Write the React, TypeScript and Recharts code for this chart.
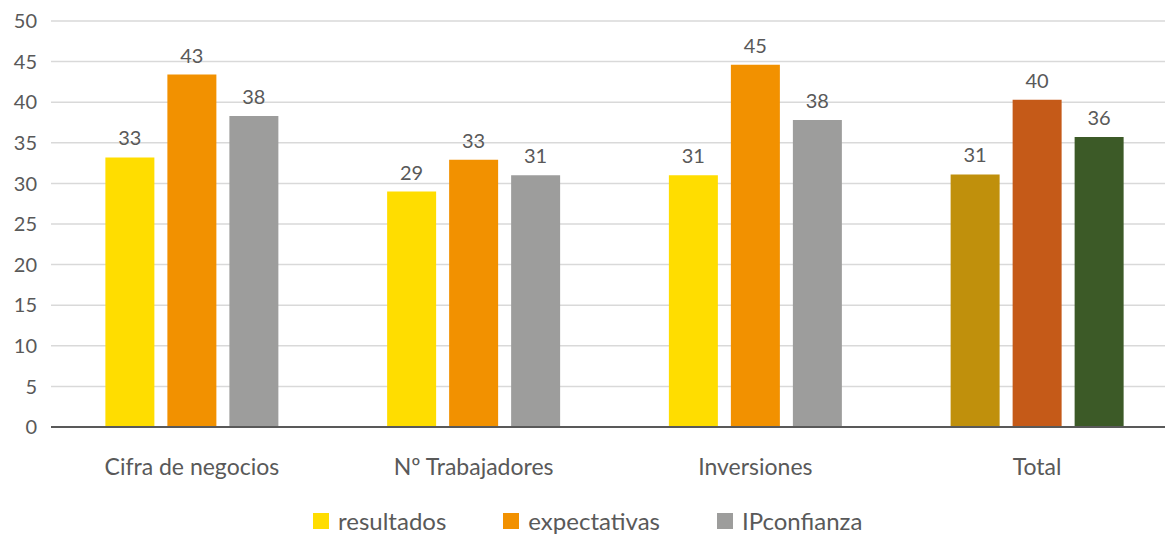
import React from 'react';
import { BarChart, Bar, XAxis, YAxis, CartesianGrid, Legend, LabelList, Cell } from 'recharts';

const categories = ['Cifra de negocios', 'Nº Trabajadores', 'Inversiones', 'Total'];
const resultados = [33.2, 29.0, 31.0, 31.1];
const expectativas = [43.4, 32.9, 44.6, 40.3];
const ipconfianza = [38.3, 31.0, 37.8, 35.7];
const yTicks = [0, 5, 10, 15, 20, 25, 30, 35, 40, 45, 50];

const series = [
  { key: 'resultados', color: '#FFDD00', totalColor: '#C0900C' },
  { key: 'expectativas', color: '#F29100', totalColor: '#C55A18' },
  { key: 'IPconfianza', color: '#9D9D9C', totalColor: '#3C5A27' },
];

const data = categories.map((name, i) => ({
  name,
  resultados: resultados[i],
  expectativas: expectativas[i],
  IPconfianza: ipconfianza[i],
}));

const FONT = 'Lato, "Open Sans", sans-serif';
const TEXT = '#595959';

const order = series.map((s) => s.key);

const renderLegend = (props: any) => {
  const payload = [...(props.payload || [])].sort(
    (a: any, b: any) => order.indexOf(a.dataKey) - order.indexOf(b.dataKey)
  );
  return (
    <div style={{ display: 'flex', paddingLeft: 313, fontFamily: FONT, fontSize: 24, color: TEXT, lineHeight: '30px' }}>
      {payload.map((p: any) => (
        <div key={p.value} style={{ display: 'flex', alignItems: 'center', marginRight: 57 }}>
          <span style={{ width: 16, height: 16, background: p.color, display: 'inline-block', marginRight: 9 }} />
          <span>{p.value}</span>
        </div>
      ))}
    </div>
  );
};

export default function App() {
  return (
    <div style={{ position: 'absolute', left: 0, top: 0, width: 1165, height: 537, background: '#fff', overflow: 'hidden' }}>
      <BarChart
        width={1178}
        height={537}
        data={data}
        margin={{ top: 21, right: 0, left: 0, bottom: 0 }}
        barCategoryGap="19.3%"
        barGap={13}
      >
        <CartesianGrid vertical={false} stroke="#D9D9D9" strokeWidth={1.5} />
        <XAxis
          dataKey="name"
          height={80}
          tickLine={false}
          tickSize={0}
          tickMargin={32}
          axisLine={{ stroke: '#595959', strokeWidth: 2 }}
          tick={{ fill: TEXT, fontSize: 23, fontFamily: FONT }}
        />
        <YAxis
          width={51}
          domain={[0, 50]}
          ticks={yTicks}
          axisLine={false}
          tickLine={false}
          tickSize={0}
          tickMargin={14}
          tick={{ fill: TEXT, fontSize: 20, fontFamily: FONT }}
        />
        <Legend
          verticalAlign="bottom"
          align="left"
          content={renderLegend}
          wrapperStyle={{ height: 30, left: 0, width: 1165, bottom: 1 }}
        />
        {series.map((s) => (
          <Bar key={s.key} dataKey={s.key} fill={s.color} isAnimationActive={false}>
            {data.map((d, i) => (
              <Cell key={i} fill={d.name === 'Total' ? s.totalColor : s.color} />
            ))}
            <LabelList
              dataKey={s.key}
              position="top"
              offset={12}
              formatter={(v: any) => Math.round(Number(v))}
              style={{ fill: TEXT, fontSize: 20, fontFamily: FONT }}
            />
          </Bar>
        ))}
      </BarChart>
    </div>
  );
}
